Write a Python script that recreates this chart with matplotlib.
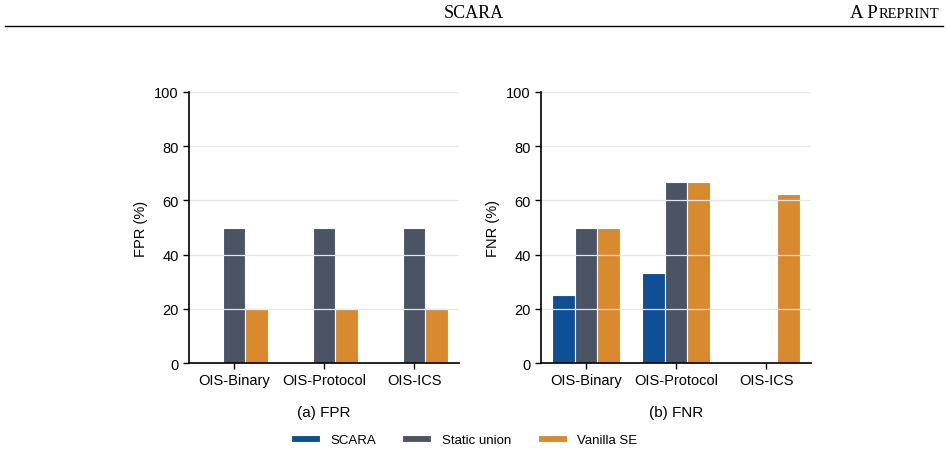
import numpy as np
import matplotlib
matplotlib.use("Agg")
import matplotlib.pyplot as plt

# data
categories = ["OIS-Binary", "OIS-Protocol", "OIS-ICS"]
methods = ["SCARA", "Static union", "Vanilla SE"]
colors = ["#0f4f96", "#4a5464", "#da8a2e"]

fpr = {
    "SCARA": [0, 0, 0],
    "Static union": [50, 50, 50],
    "Vanilla SE": [20, 20, 20],
}
fnr = {
    "SCARA": [25, 33.3, 0],
    "Static union": [50, 66.7, 0],
    "Vanilla SE": [50, 66.7, 62.5],
}

plt.rcParams["font.family"] = ["Liberation Sans", "DejaVu Sans"]

fig = plt.figure(figsize=(9.48, 4.52), dpi=100)
W, H = 948, 452


def add_ax(left, top, right, bottom):
    return fig.add_axes([left / W, 1 - bottom / H, (right - left) / W, (bottom - top) / H])


ax1 = add_ax(189, 93, 459, 364)
ax2 = add_ax(541, 93, 811, 364)

x = np.arange(len(categories))
width = 0.25
offsets = [-width, 0, width]


def draw(ax, data, ylabel, caption):
    handles = []
    for m, c, off in zip(methods, colors, offsets):
        h = ax.bar(x + off, data[m], width, color=c, edgecolor="white", linewidth=0.8, zorder=2)
        handles.append(h)
    ax.set_xlim(-0.5, 2.5)
    ax.set_ylim(0, 100)
    ax.set_yticks(range(0, 101, 20))
    ax.set_xticks(x)
    ax.set_xticklabels(categories)
    ax.yaxis.grid(True, color="#e6e6e6", linewidth=0.9, zorder=3)
    ax.set_axisbelow(False)
    for s in ["top", "right"]:
        ax.spines[s].set_visible(False)
    for s in ["left", "bottom"]:
        ax.spines[s].set_linewidth(1.2)
        ax.spines[s].set_zorder(4)
    ax.tick_params(labelsize=10.5, length=4, width=1.0)
    ax.set_ylabel(ylabel, fontsize=10.5)
    ax.text(0.5, -0.155, caption, transform=ax.transAxes, ha="center", va="top", fontsize=11)
    return handles


handles = draw(ax1, fpr, "FPR (%)", "(a) FPR")
draw(ax2, fnr, "FNR (%)", "(b) FNR")

fig.legend(handles, methods, loc="center", bbox_to_anchor=(464 / W, 1 - 441 / H),
           ncol=3, frameon=False, fontsize=9.5, handlelength=2.2, handleheight=0.5,
           columnspacing=2.0)

# page header
fig.text(474 / W, 1 - 18 / H, "SCARA", ha="center", va="baseline",
         family="Liberation Serif", fontsize=13)
t1 = fig.text(850 / W, 1 - 18 / H, "A P", ha="left", va="baseline",
              family="Liberation Serif", fontsize=13.5)
fig.canvas.draw()
bb = t1.get_window_extent()
fig.text(bb.x1 / W + 0.5 / W, 1 - 18 / H, "REPRINT", ha="left", va="baseline",
         family="Liberation Serif", fontsize=10.5)
fig.add_artist(plt.Line2D([5 / W, 943 / W], [1 - 27 / H, 1 - 27 / H], color="black", linewidth=1.0))

fig.savefig("out.png", dpi=100)
